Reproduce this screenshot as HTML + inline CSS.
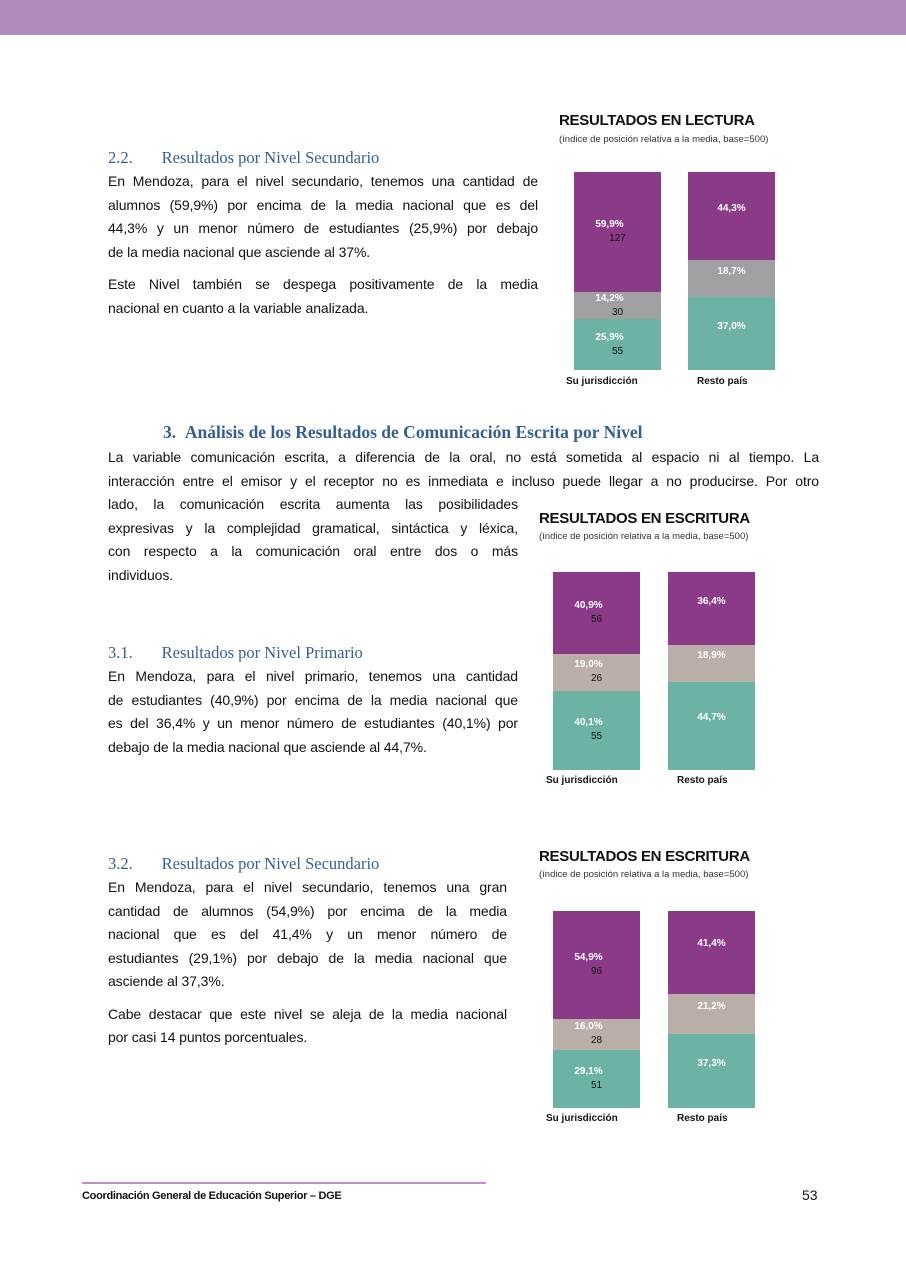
<!DOCTYPE html>
<html><head><meta charset="utf-8">
<style>
body{margin:0;width:906px;height:1280px;position:relative;background:#fff;font-family:"Liberation Sans",sans-serif;overflow:hidden}
.a{position:absolute}
.p{position:absolute;font-size:14px;line-height:23.5px;color:#111;text-align:justify;letter-spacing:-0.1px}
.p .l{display:block;text-align:justify;text-align-last:justify;height:23.5px}
.p .e{display:block;height:23.5px}
.h{position:absolute;font-family:"Liberation Serif",serif;font-size:16.5px;color:#365F91}
.t{position:absolute;font-weight:bold;font-size:15px;color:#111;letter-spacing:-0.3px}
.s{position:absolute;font-size:9.5px;color:#333}
.bar{position:absolute;width:87px}
.lb{position:absolute;font-size:10px;font-weight:bold;color:#fff;text-align:center;width:87px}
.n{position:absolute;font-size:10px;color:#111;text-align:center;width:87px}
.x{position:absolute;font-size:10px;font-weight:bold;color:#111}
</style></head><body>
<div class="a" style="left:0;top:0;width:906px;height:35px;background:#AE8BBA"></div>

<div class="h" style="left:108px;top:148px">2.2.&nbsp;&nbsp;&nbsp;&nbsp;&nbsp;&nbsp;&nbsp;Resultados por Nivel Secundario</div>
<div class="p" style="left:108px;top:170px;width:430px">
<span class="l">En Mendoza, para el nivel secundario, tenemos una cantidad de</span>
<span class="l">alumnos (59,9%) por encima de la media nacional que es del</span>
<span class="l">44,3% y un menor número de estudiantes (25,9%) por debajo</span>
<span class="e">de la media nacional que asciende al 37%.</span>
<span class="e" style="height:9px"></span>
<span class="l">Este Nivel también se despega positivamente de la media</span>
<span class="e">nacional en cuanto a la variable analizada.</span>
</div>

<!-- chart 1 -->
<div class="t" style="left:559px;top:112px">RESULTADOS EN LECTURA</div>
<div class="s" style="left:559px;top:134px">(índice de posición relativa a la media, base=500)</div>
<div class="bar" style="left:574px;top:172px;height:120px;background:#8B3A87"></div>
<div class="bar" style="left:574px;top:292px;height:27px;background:#A0A0A0"></div>
<div class="bar" style="left:574px;top:319px;height:51px;background:#6DB3A5"></div>
<div class="bar" style="left:688px;top:172px;height:88px;background:#8B3A87"></div>
<div class="bar" style="left:688px;top:260px;height:37px;background:#A0A0A0"></div>
<div class="bar" style="left:688px;top:297px;height:73px;background:#6DB3A5"></div>
<div class="lb" style="left:566px;top:219px">59,9%</div><div class="n" style="left:574px;top:233px">127</div>
<div class="lb" style="left:566px;top:293px">14,2%</div><div class="n" style="left:574px;top:307px">30</div>
<div class="lb" style="left:566px;top:332px">25,9%</div><div class="n" style="left:574px;top:346px">55</div>
<div class="lb" style="left:688px;top:203px">44,3%</div>
<div class="lb" style="left:688px;top:266px">18,7%</div>
<div class="lb" style="left:688px;top:321px">37,0%</div>
<div class="x" style="left:566px;top:376px">Su jurisdicción</div>
<div class="x" style="left:697px;top:376px">Resto país</div>

<div class="h" style="left:163px;top:422px;font-weight:bold;font-size:17.5px">3.&nbsp;&nbsp;Análisis de los Resultados de Comunicación Escrita por Nivel</div>
<div class="p" style="left:108px;top:446px;width:711px">
<span class="l">La variable comunicación escrita, a diferencia de la oral, no está sometida al espacio ni al tiempo. La</span>
<span class="l">interacción entre el emisor y el receptor no es inmediata e incluso puede llegar a no producirse. Por otro</span>
</div>
<div class="p" style="left:108px;top:493px;width:410px">
<span class="l">lado, la comunicación escrita aumenta las posibilidades</span>
<span class="l">expresivas y la complejidad gramatical, sintáctica y léxica,</span>
<span class="l">con respecto a la comunicación oral entre dos o más</span>
<span class="e">individuos.</span>
</div>

<div class="h" style="left:108px;top:643px">3.1.&nbsp;&nbsp;&nbsp;&nbsp;&nbsp;&nbsp;&nbsp;Resultados por Nivel Primario</div>
<div class="p" style="left:108px;top:665px;width:410px">
<span class="l">En Mendoza, para el nivel primario, tenemos una cantidad</span>
<span class="l">de estudiantes (40,9%) por encima de la media nacional que</span>
<span class="l">es del 36,4% y un menor número de estudiantes (40,1%) por</span>
<span class="e">debajo de la media nacional que asciende al 44,7%.</span>
</div>

<!-- chart 2 -->
<div class="t" style="left:539px;top:510px">RESULTADOS EN ESCRITURA</div>
<div class="s" style="left:539px;top:531px">(índice de posición relativa a la media, base=500)</div>
<div class="bar" style="left:553px;top:572px;height:82px;background:#8B3A87"></div>
<div class="bar" style="left:553px;top:654px;height:37px;background:#B9AEA8"></div>
<div class="bar" style="left:553px;top:691px;height:79px;background:#6DB3A5"></div>
<div class="bar" style="left:668px;top:572px;height:73px;background:#8B3A87"></div>
<div class="bar" style="left:668px;top:645px;height:37px;background:#B9AEA8"></div>
<div class="bar" style="left:668px;top:682px;height:88px;background:#6DB3A5"></div>
<div class="lb" style="left:545px;top:600px">40,9%</div><div class="n" style="left:553px;top:614px">56</div>
<div class="lb" style="left:545px;top:659px">19,0%</div><div class="n" style="left:553px;top:673px">26</div>
<div class="lb" style="left:545px;top:717px">40,1%</div><div class="n" style="left:553px;top:731px">55</div>
<div class="lb" style="left:668px;top:596px">36,4%</div>
<div class="lb" style="left:668px;top:650px">18,9%</div>
<div class="lb" style="left:668px;top:712px">44,7%</div>
<div class="x" style="left:546px;top:775px">Su jurisdicción</div>
<div class="x" style="left:677px;top:775px">Resto país</div>

<div class="h" style="left:108px;top:854px">3.2.&nbsp;&nbsp;&nbsp;&nbsp;&nbsp;&nbsp;&nbsp;Resultados por Nivel Secundario</div>
<div class="p" style="left:108px;top:876px;width:399px">
<span class="l">En Mendoza, para el nivel secundario, tenemos una gran</span>
<span class="l">cantidad de alumnos (54,9%) por encima de la media</span>
<span class="l">nacional que es del 41,4% y un menor número de</span>
<span class="l">estudiantes (29,1%) por debajo de la media nacional que</span>
<span class="e">asciende al 37,3%.</span>
<span class="e" style="height:9px"></span>
<span class="l">Cabe destacar que este nivel se aleja de la media nacional</span>
<span class="e">por casi 14 puntos porcentuales.</span>
</div>

<!-- chart 3 -->
<div class="t" style="left:539px;top:848px">RESULTADOS EN ESCRITURA</div>
<div class="s" style="left:539px;top:869px">(índice de posición relativa a la media, base=500)</div>
<div class="bar" style="left:553px;top:911px;height:108px;background:#8B3A87"></div>
<div class="bar" style="left:553px;top:1019px;height:31px;background:#B9AEA8"></div>
<div class="bar" style="left:553px;top:1050px;height:58px;background:#6DB3A5"></div>
<div class="bar" style="left:668px;top:911px;height:83px;background:#8B3A87"></div>
<div class="bar" style="left:668px;top:994px;height:40px;background:#B9AEA8"></div>
<div class="bar" style="left:668px;top:1034px;height:74px;background:#6DB3A5"></div>
<div class="lb" style="left:545px;top:952px">54,9%</div><div class="n" style="left:553px;top:966px">96</div>
<div class="lb" style="left:545px;top:1021px">16,0%</div><div class="n" style="left:553px;top:1035px">28</div>
<div class="lb" style="left:545px;top:1066px">29,1%</div><div class="n" style="left:553px;top:1080px">51</div>
<div class="lb" style="left:668px;top:938px">41,4%</div>
<div class="lb" style="left:668px;top:1001px">21,2%</div>
<div class="lb" style="left:668px;top:1058px">37,3%</div>
<div class="x" style="left:546px;top:1113px">Su jurisdicción</div>
<div class="x" style="left:677px;top:1113px">Resto país</div>

<div class="a" style="left:82px;top:1182px;width:404px;height:2px;background:#B98FC4"></div>
<div class="a" style="left:82px;top:1190px;font-size:11px;font-weight:bold;color:#111;letter-spacing:-0.3px">Coordinación General de Educación Superior – DGE</div>
<div class="a" style="left:802px;top:1187px;font-size:14px;color:#111">53</div>
</body></html>
